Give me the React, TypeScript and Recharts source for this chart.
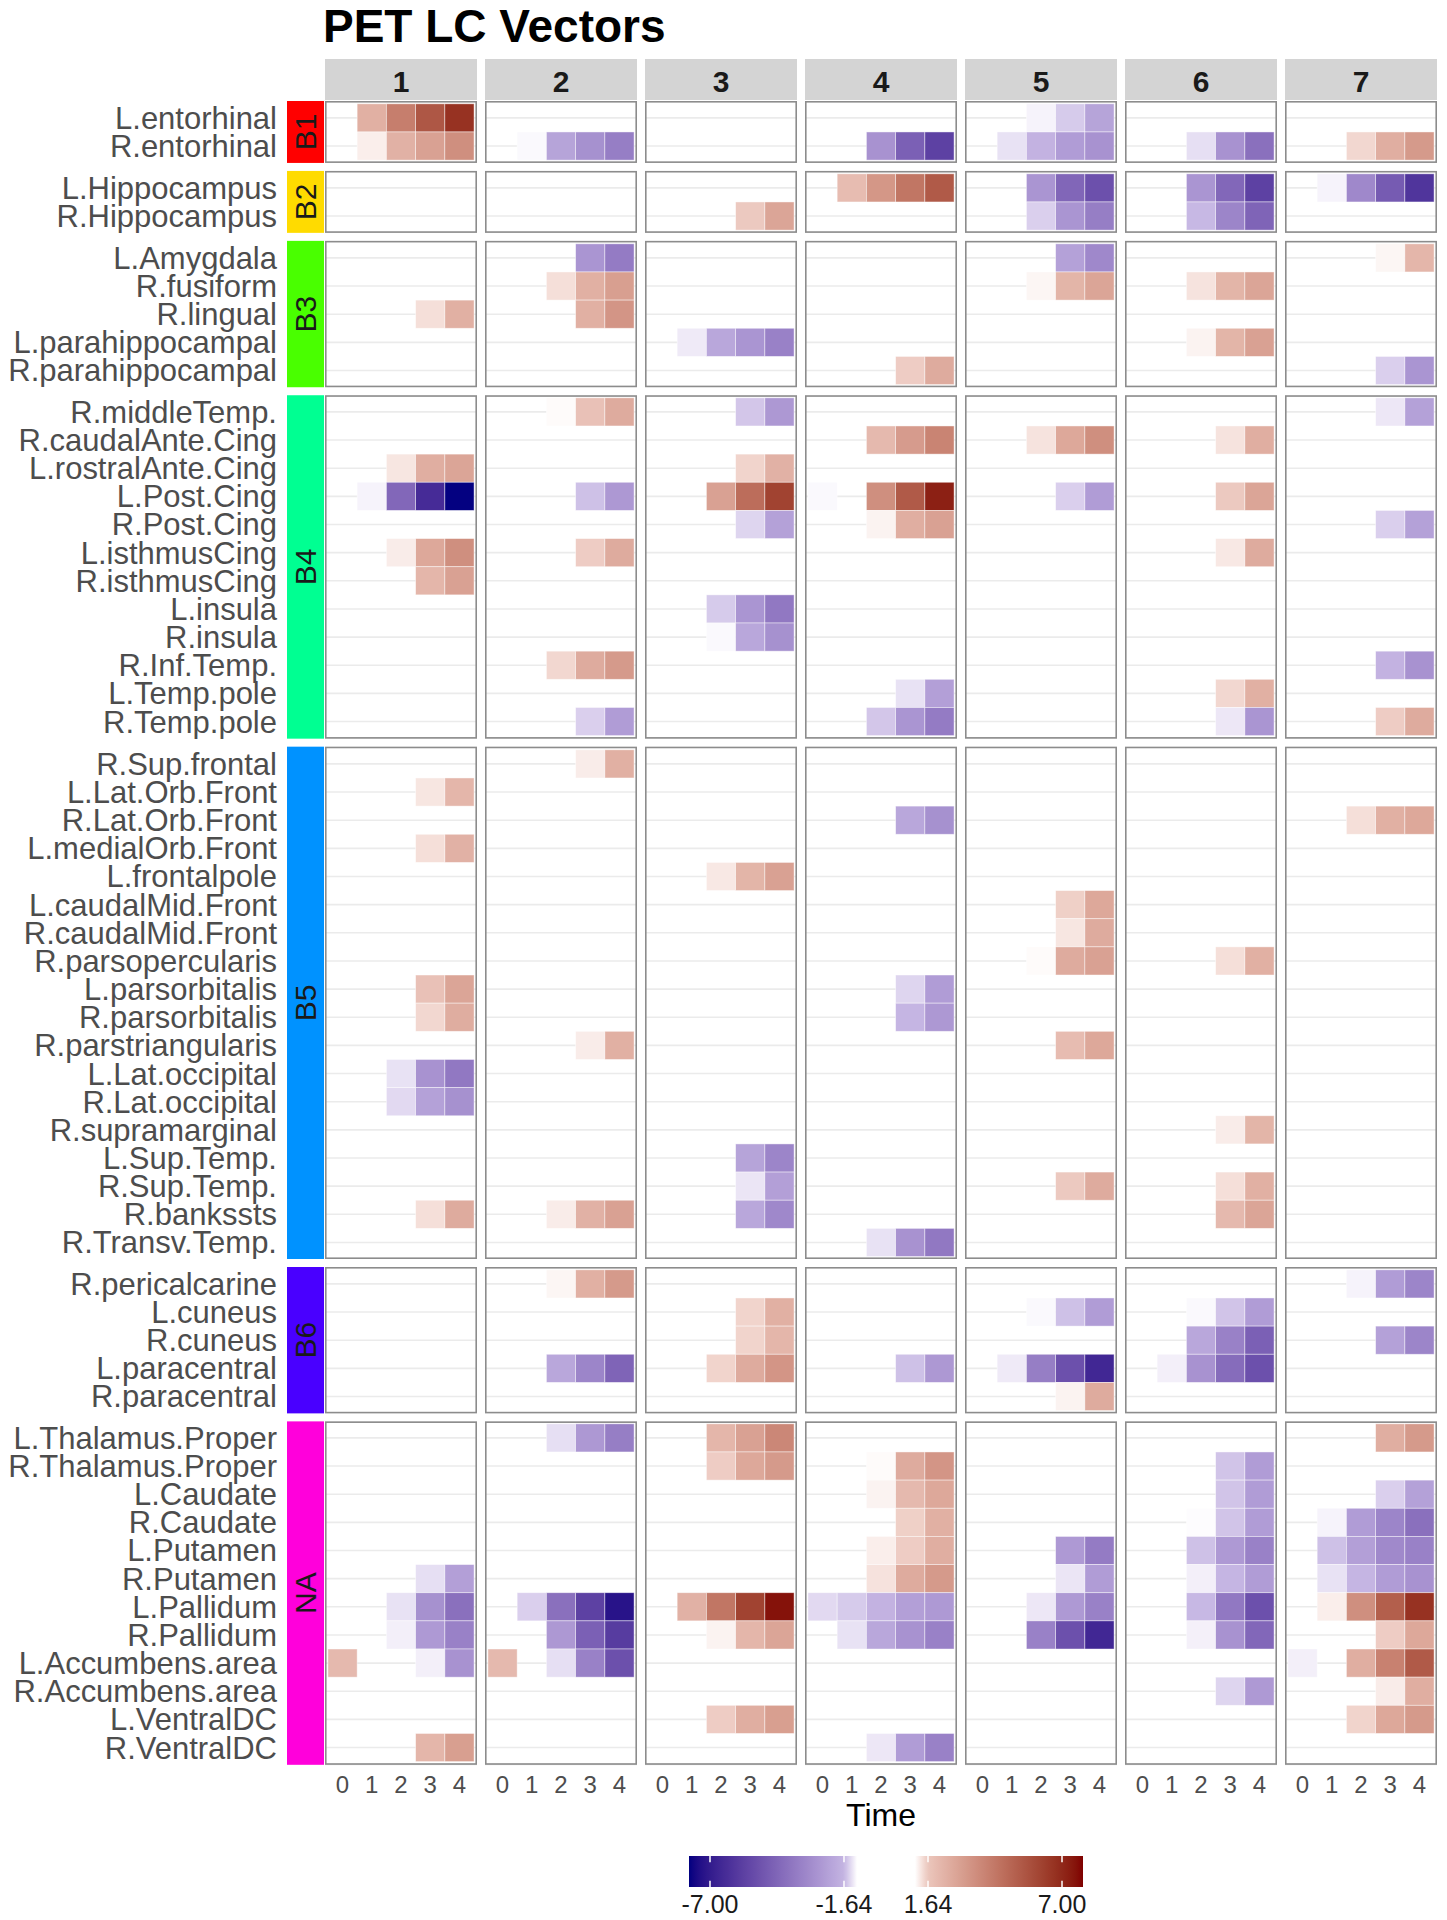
import React from 'react';
import { ScatterChart, Scatter, XAxis, YAxis, CartesianGrid } from 'recharts';

const FONT = '"Liberation Sans", Arial, Helvetica, sans-serif';

const TITLE = 'PET LC Vectors';
const X_TITLE = 'Time';
const FACETS = ['1', '2', '3', '4', '5', '6', '7'];
const TIMES = [0, 1, 2, 3, 4];

const BLOCK_LABELS = ['B1', 'B2', 'B3', 'B4', 'B5', 'B6', 'NA'];
const B1_ROWS = ['L.entorhinal', 'R.entorhinal'];
const B2_ROWS = ['L.Hippocampus', 'R.Hippocampus'];
const B3_ROWS = ['L.Amygdala', 'R.fusiform', 'R.lingual', 'L.parahippocampal', 'R.parahippocampal'];
const B4_ROWS = ['R.middleTemp.', 'R.caudalAnte.Cing', 'L.rostralAnte.Cing', 'L.Post.Cing', 'R.Post.Cing', 'L.isthmusCing', 'R.isthmusCing', 'L.insula', 'R.insula', 'R.Inf.Temp.', 'L.Temp.pole', 'R.Temp.pole'];
const B5_ROWS = ['R.Sup.frontal', 'L.Lat.Orb.Front', 'R.Lat.Orb.Front', 'L.medialOrb.Front', 'L.frontalpole', 'L.caudalMid.Front', 'R.caudalMid.Front', 'R.parsopercularis', 'L.parsorbitalis', 'R.parsorbitalis', 'R.parstriangularis', 'L.Lat.occipital', 'R.Lat.occipital', 'R.supramarginal', 'L.Sup.Temp.', 'R.Sup.Temp.', 'R.bankssts', 'R.Transv.Temp.'];
const B6_ROWS = ['R.pericalcarine', 'L.cuneus', 'R.cuneus', 'L.paracentral', 'R.paracentral'];
const NA_ROWS = ['L.Thalamus.Proper', 'R.Thalamus.Proper', 'L.Caudate', 'R.Caudate', 'L.Putamen', 'R.Putamen', 'L.Pallidum', 'R.Pallidum', 'L.Accumbens.area', 'R.Accumbens.area', 'L.VentralDC', 'R.VentralDC'];
const BLOCK_ROWS = [B1_ROWS, B2_ROWS, B3_ROWS, B4_ROWS, B5_ROWS, B6_ROWS, NA_ROWS];

type Row = [string, (number | null)[]];
const _ = null;

const FACET1: Row[] = [
  ['L.entorhinal', [_, 2.39, 4.11, 5.45, 6.69]],
  ['R.entorhinal', [_, 1.27, 2.34, 2.88, 3.52]],
  ['R.lingual', [_, _, _, 1.41, 2.39]],
  ['L.rostralAnte.Cing', [_, _, 1.35, 2.45, 2.77]],
  ['L.Post.Cing', [_, -1.2, -4.25, -6.41, -7.8]],
  ['L.isthmusCing', [_, _, 1.29, 2.66, 3.52]],
  ['R.isthmusCing', [_, _, _, 2.18, 2.88]],
  ['L.Lat.Orb.Front', [_, _, _, 1.35, 2.18]],
  ['L.medialOrb.Front', [_, _, _, 1.41, 2.34]],
  ['L.parsorbitalis', [_, _, _, 1.8, 2.77]],
  ['R.parsorbitalis', [_, _, _, 1.48, 2.5]],
  ['L.Lat.occipital', [_, _, -1.32, -2.77, -3.66]],
  ['R.Lat.occipital', [_, _, -1.38, -2.28, -2.82]],
  ['R.bankssts', [_, _, _, 1.41, 2.55]],
  ['R.Putamen', [_, _, _, -1.34, -2.33]],
  ['L.Pallidum', [_, _, -1.32, -2.82, -3.95]],
  ['R.Pallidum', [_, _, -1.23, -2.53, -3.36]],
  ['L.Accumbens.area', [2.07, _, _, -1.23, -2.77]],
  ['R.VentralDC', [_, _, _, 2.18, 2.98]],
];

const FACET2: Row[] = [
  ['R.entorhinal', [_, -1.16, -2.18, -2.82, -3.46]],
  ['L.Amygdala', [_, _, _, -2.67, -3.56]],
  ['R.fusiform', [_, _, 1.41, 2.39, 2.98]],
  ['R.lingual', [_, _, _, 2.39, 3.3]],
  ['R.middleTemp.', [_, _, 1.16, 1.8, 2.55]],
  ['L.Post.Cing', [_, _, _, -1.55, -2.57]],
  ['L.isthmusCing', [_, _, _, 1.58, 2.55]],
  ['R.Inf.Temp.', [_, _, 1.48, 2.55, 3.14]],
  ['R.Temp.pole', [_, _, _, -1.45, -2.43]],
  ['R.Sup.frontal', [_, _, _, 1.29, 2.39]],
  ['R.parstriangularis', [_, _, _, 1.29, 2.39]],
  ['R.bankssts', [_, _, 1.29, 2.34, 2.88]],
  ['R.pericalcarine', [_, _, 1.2, 2.39, 3.14]],
  ['L.paracentral', [_, _, -2.08, -3.21, -4.35]],
  ['L.Thalamus.Proper', [_, _, -1.34, -2.57, -3.46]],
  ['L.Pallidum', [_, -1.45, -3.95, -5.63, -7.25]],
  ['R.Pallidum', [_, _, -2.57, -4.5, -5.82]],
  ['L.Accumbens.area', [2.07, _, -1.34, -3.36, -5.08]],
];

const FACET3: Row[] = [
  ['R.Hippocampus', [_, _, _, 1.61, 2.77]],
  ['L.parahippocampal', [_, -1.26, -2.08, -2.67, -3.36]],
  ['R.middleTemp.', [_, _, _, -1.51, -2.57]],
  ['L.rostralAnte.Cing', [_, _, _, 1.51, 2.34]],
  ['L.Post.Cing', [_, _, 2.88, 4.7, 6.15]],
  ['R.Post.Cing', [_, _, _, -1.41, -2.28]],
  ['L.insula', [_, _, -1.48, -2.67, -3.66]],
  ['R.insula', [_, _, -1.16, -2.08, -2.82]],
  ['L.frontalpole', [_, _, 1.33, 2.23, 2.88]],
  ['L.Sup.Temp.', [_, _, _, -2.18, -3.21]],
  ['R.Sup.Temp.', [_, _, _, -1.3, -2.33]],
  ['R.bankssts', [_, _, _, -2.08, -3.12]],
  ['L.cuneus', [_, _, _, 1.51, 2.39]],
  ['R.cuneus', [_, _, _, 1.51, 2.18]],
  ['L.paracentral', [_, _, 1.51, 2.55, 3.3]],
  ['L.Thalamus.Proper', [_, _, 2.18, 2.88, 3.79]],
  ['R.Thalamus.Proper', [_, _, 1.58, 2.66, 3.14]],
  ['L.Pallidum', [_, 2.34, 4.38, 6.15, 7.55]],
  ['R.Pallidum', [_, _, 1.23, 2.18, 2.77]],
  ['L.VentralDC', [_, _, 1.58, 2.45, 2.98]],
];

const FACET4: Row[] = [
  ['R.entorhinal', [_, _, -2.77, -4.5, -5.63]],
  ['L.Hippocampus', [_, 1.96, 3.25, 4.38, 5.35]],
  ['R.parahippocampal', [_, _, _, 1.58, 2.55]],
  ['R.caudalAnte.Cing', [_, _, 2.07, 3.09, 3.9]],
  ['L.Post.Cing', [-1.16, _, 3.52, 5.35, 7.23]],
  ['R.Post.Cing', [_, _, 1.23, 2.45, 2.88]],
  ['L.Temp.pole', [_, _, _, -1.32, -2.33]],
  ['R.Temp.pole', [_, _, -1.51, -2.67, -3.56]],
  ['R.Lat.Orb.Front', [_, _, _, -2.08, -2.82]],
  ['L.parsorbitalis', [_, _, _, -1.41, -2.43]],
  ['R.parsorbitalis', [_, _, _, -1.63, -2.57]],
  ['R.Transv.Temp.', [_, _, -1.32, -2.77, -3.66]],
  ['L.paracentral', [_, _, _, -1.55, -2.57]],
  ['R.Thalamus.Proper', [_, _, 1.16, 2.55, 3.3]],
  ['L.Caudate', [_, _, 1.23, 2.07, 2.66]],
  ['R.Caudate', [_, _, _, 1.55, 2.39]],
  ['L.Putamen', [_, _, 1.27, 1.58, 2.45]],
  ['R.Putamen', [_, _, 1.38, 2.55, 3.14]],
  ['L.Pallidum', [-1.38, -1.48, -1.69, -2.33, -2.53]],
  ['R.Pallidum', [_, -1.32, -2.08, -2.77, -3.36]],
  ['R.VentralDC', [_, _, -1.28, -2.43, -3.36]],
];

const FACET5: Row[] = [
  ['L.entorhinal', [_, _, -1.2, -1.48, -2.18]],
  ['R.entorhinal', [_, -1.32, -1.69, -2.43, -2.77]],
  ['L.Hippocampus', [_, _, -2.67, -4.3, -5.08]],
  ['R.Hippocampus', [_, _, -1.45, -2.67, -3.46]],
  ['L.Amygdala', [_, _, _, -2.28, -3.12]],
  ['R.fusiform', [_, _, 1.2, 2.23, 2.77]],
  ['R.caudalAnte.Cing', [_, _, 1.37, 2.66, 3.52]],
  ['L.Post.Cing', [_, _, _, -1.45, -2.43]],
  ['L.caudalMid.Front', [_, _, _, 1.55, 2.66]],
  ['R.caudalMid.Front', [_, _, _, 1.35, 2.55]],
  ['R.parsopercularis', [_, _, 1.16, 2.55, 2.88]],
  ['R.parstriangularis', [_, _, _, 1.96, 2.66]],
  ['R.Sup.Temp.', [_, _, _, 1.61, 2.55]],
  ['L.cuneus', [_, _, -1.16, -1.55, -2.43]],
  ['L.paracentral', [_, -1.26, -3.46, -5.08, -6.56]],
  ['R.paracentral', [_, _, _, 1.23, 2.55]],
  ['L.Putamen', [_, _, _, -2.53, -3.56]],
  ['R.Putamen', [_, _, _, -1.3, -2.43]],
  ['L.Pallidum', [_, _, -1.28, -2.53, -3.36]],
  ['R.Pallidum', [_, _, -3.36, -5.08, -6.56]],
];

const FACET6: Row[] = [
  ['R.entorhinal', [_, _, -1.34, -2.77, -3.95]],
  ['L.Hippocampus', [_, _, -2.67, -4.25, -5.63]],
  ['R.Hippocampus', [_, _, -1.61, -3.21, -4.35]],
  ['R.fusiform', [_, _, 1.37, 2.23, 2.77]],
  ['L.parahippocampal', [_, _, 1.23, 2.23, 2.88]],
  ['R.caudalAnte.Cing', [_, _, _, 1.37, 2.45]],
  ['L.Post.Cing', [_, _, _, 1.61, 2.77]],
  ['L.isthmusCing', [_, _, _, 1.33, 2.55]],
  ['L.Temp.pole', [_, _, _, 1.48, 2.39]],
  ['R.Temp.pole', [_, _, _, -1.28, -2.67]],
  ['R.parsopercularis', [_, _, _, 1.41, 2.39]],
  ['R.supramarginal', [_, _, _, 1.29, 2.23]],
  ['R.Sup.Temp.', [_, _, _, 1.41, 2.39]],
  ['R.bankssts', [_, _, _, 2.07, 2.77]],
  ['L.cuneus', [_, _, -1.16, -1.53, -2.43]],
  ['R.cuneus', [_, _, -2.08, -3.36, -4.5]],
  ['L.paracentral', [_, -1.23, -2.77, -4.1, -5.08]],
  ['R.Thalamus.Proper', [_, _, _, -1.53, -2.43]],
  ['L.Caudate', [_, _, _, -1.53, -2.43]],
  ['R.Caudate', [_, _, -1.14, -1.53, -2.43]],
  ['L.Putamen', [_, _, -1.55, -2.53, -3.36]],
  ['R.Putamen', [_, _, -1.23, -1.63, -2.43]],
  ['L.Pallidum', [_, _, -1.61, -3.66, -5.08]],
  ['R.Pallidum', [_, _, -1.22, -2.77, -4.25]],
  ['R.Accumbens.area', [_, _, _, -1.41, -2.53]],
];

const FACET7: Row[] = [
  ['R.entorhinal', [_, _, 1.48, 2.45, 3.14]],
  ['L.Hippocampus', [_, -1.2, -3.12, -4.69, -6.07]],
  ['L.Amygdala', [_, _, _, 1.2, 2.18]],
  ['R.parahippocampal', [_, _, _, -1.45, -2.67]],
  ['R.middleTemp.', [_, _, _, -1.28, -2.28]],
  ['R.Post.Cing', [_, _, _, -1.45, -2.28]],
  ['R.Inf.Temp.', [_, _, _, -1.69, -2.77]],
  ['R.Temp.pole', [_, _, _, 1.58, 2.55]],
  ['R.Lat.Orb.Front', [_, _, 1.41, 2.39, 2.66]],
  ['R.pericalcarine', [_, _, -1.2, -2.43, -3.21]],
  ['R.cuneus', [_, _, _, -2.28, -3.21]],
  ['L.Thalamus.Proper', [_, _, _, 2.45, 3.14]],
  ['L.Caudate', [_, _, _, -1.45, -2.28]],
  ['R.Caudate', [_, -1.2, -2.43, -3.21, -3.95]],
  ['L.Putamen', [_, -1.55, -2.33, -3.07, -3.36]],
  ['R.Putamen', [_, -1.32, -1.63, -2.43, -2.77]],
  ['L.Pallidum', [_, 1.27, 3.52, 5.19, 6.69]],
  ['R.Pallidum', [_, _, _, 1.58, 2.66]],
  ['L.Accumbens.area', [-1.23, _, 2.45, 4.0, 5.35]],
  ['R.Accumbens.area', [_, _, _, 1.29, 2.45]],
  ['L.VentralDC', [_, _, 1.51, 2.66, 3.14]],
];

const FACET_DATA = [FACET1, FACET2, FACET3, FACET4, FACET5, FACET6, FACET7];

const NEG_BREAKS = [-7, -1.64];
const POS_BREAKS = [1.64, 7];
const NEG_RANGE = [-7.84, -1.12];
const POS_RANGE = [1.12, 7.84];

// colour scale stops (value -> colour), interpolated in CIELAB
const NEG_STOPS: [number, string][] = [[-7.84, '#000080'], [-1.64, '#C4B4E2'], [-1.12, '#FFFFFF']];
const POS_STOPS: [number, string][] = [[1.12, '#FFFFFF'], [1.64, '#EBC6BC'], [7.84, '#7F0000']];

const STRIP_COLORS = ['#FF0000', '#FFDB00', '#49FF00', '#00FF92', '#0092FF', '#4900FF', '#FF00DB'];

// ---------- layout ----------
const PANEL_X0 = 325;
const PITCH = 160;
const PW = 152;
const TOP0 = 101;
const ROWP = 28.15;
const GAP = 8;
const XAXIS_H = 45;

// ---------- colour helpers ----------
function hexToRgb(hex: string): number[] {
  const n = parseInt(hex.slice(1), 16);
  return [(n >> 16) & 255, (n >> 8) & 255, n & 255];
}
function toLin(c: number) {
  c /= 255;
  return c <= 0.04045 ? c / 12.92 : Math.pow((c + 0.055) / 1.055, 2.4);
}
function fromLin(c: number) {
  const v = c <= 0.0031308 ? 12.92 * c : 1.055 * Math.pow(Math.max(c, 0), 1 / 2.4) - 0.055;
  return Math.round(Math.max(0, Math.min(1, v)) * 255);
}
const XN = 0.95047, YN = 1.0, ZN = 1.08883;
function fLab(t: number) {
  return t > 216 / 24389 ? Math.cbrt(t) : ((24389 / 27) * t + 16) / 116;
}
function fInv(t: number) {
  const t3 = t * t * t;
  return t3 > 216 / 24389 ? t3 : (116 * t - 16) / (24389 / 27);
}
function rgbToLab(rgb: number[]): number[] {
  const [r, g, b] = rgb.map(toLin);
  const x = r * 0.4124 + g * 0.3576 + b * 0.1805;
  const y = r * 0.2126 + g * 0.7152 + b * 0.0722;
  const z = r * 0.0193 + g * 0.1192 + b * 0.9505;
  const fx = fLab(x / XN), fy = fLab(y / YN), fz = fLab(z / ZN);
  return [116 * fy - 16, 500 * (fx - fy), 200 * (fy - fz)];
}
function labToHex(lab: number[]): string {
  const [L, a, b] = lab;
  const fy = (L + 16) / 116, fx = fy + a / 500, fz = fy - b / 200;
  const x = fInv(fx) * XN, y = fInv(fy) * YN, z = fInv(fz) * ZN;
  const r = 3.2406 * x - 1.5372 * y - 0.4986 * z;
  const g = -0.9689 * x + 1.8758 * y + 0.0415 * z;
  const bb = 0.0557 * x - 0.204 * y + 1.057 * z;
  return '#' + [r, g, bb].map(fromLin).map((v) => v.toString(16).padStart(2, '0')).join('');
}
function ramp(stops: [number, string][], v: number): string {
  const lo = stops[0][0], hi = stops[stops.length - 1][0];
  const vv = Math.max(lo, Math.min(hi, v));
  for (let i = 0; i < stops.length - 1; i++) {
    const [v0, c0] = stops[i];
    const [v1, c1] = stops[i + 1];
    if (vv >= v0 && vv <= v1) {
      const t = (vv - v0) / (v1 - v0);
      const a = rgbToLab(hexToRgb(c0)), b = rgbToLab(hexToRgb(c1));
      return labToHex([a[0] + (b[0] - a[0]) * t, a[1] + (b[1] - a[1]) * t, a[2] + (b[2] - a[2]) * t]);
    }
  }
  return stops[stops.length - 1][1];
}
function fillFor(v: number): string {
  return v < 0 ? ramp(NEG_STOPS, v) : ramp(POS_STOPS, v);
}

// ---------- data building ----------
function panelCells(f: number, b: number) {
  const rows = BLOCK_ROWS[b];
  const out: { t: number; r: number; v: number }[] = [];
  rows.forEach((name, r) => {
    const entry = FACET_DATA[f].find((e) => e[0] === name);
    if (!entry) return;
    entry[1].forEach((v, ti) => {
      if (v !== null) out.push({ t: TIMES[ti], r, v });
    });
  });
  return out;
}

const blockHeights = BLOCK_ROWS.map((rows) => (rows.length + 0.2) * ROWP);
const blockTops: number[] = [];
{
  let y = TOP0;
  blockHeights.forEach((h) => {
    blockTops.push(y);
    y += h + GAP;
  });
}
const panelLeft = (f: number) => PANEL_X0 + f * PITCH;

function Panel({ f, b }: { f: number; b: number }) {
  const rows = BLOCK_ROWS[b];
  const n = rows.length;
  const ph = blockHeights[b];
  const first = f === 0;
  const last = b === BLOCK_ROWS.length - 1;
  const yw = first ? PANEL_X0 : 0;
  const xh = last ? XAXIS_H : 0;
  const data = panelCells(f, b);
  const cw = PW / 5.2;
  const ch = ROWP;
  const shape = (p: any) => (
    <rect
      x={p.cx - cw / 2}
      y={p.cy - ch / 2}
      width={cw}
      height={ch}
      fill={fillFor(p.payload.v)}
      stroke="#FFFFFF"
      strokeOpacity={0.55}
      strokeWidth={0.8}
    />
  );
  const w = yw + PW;
  const h = ph + xh;
  return (
    <div style={{ position: 'absolute', left: first ? 0 : panelLeft(f), top: blockTops[b], width: w, height: h }}>
      <ScatterChart width={w} height={h} margin={{ top: 0, right: 0, bottom: 0, left: 0 }}>
        <CartesianGrid vertical={false} horizontal={true} stroke="#EBEBEB" strokeWidth={1.6} />
        <XAxis
          type="number"
          dataKey="t"
          domain={[-0.6, 4.6]}
          allowDataOverflow
          ticks={TIMES}
          hide={!last}
          height={last ? XAXIS_H : 0}
          axisLine={false}
          tickLine={false}
          tickSize={0}
          tickMargin={12}
          interval={0}
          tick={{ fontSize: 24, fill: '#4D4D4D', fontFamily: FONT }}
        />
        <YAxis
          type="number"
          dataKey="r"
          domain={[-0.6, n - 0.4]}
          allowDataOverflow
          reversed
          ticks={rows.map((_r, i) => i)}
          tickFormatter={(i: number) => rows[i] ?? ''}
          hide={!first}
          width={first ? yw : 0}
          axisLine={false}
          tickLine={false}
          tickSize={0}
          tickMargin={48}
          interval={0}
          tick={{ fontSize: 31, fill: '#4D4D4D', fontFamily: FONT }}
        />
        <Scatter data={data} shape={shape} isAnimationActive={false} />
      </ScatterChart>
    </div>
  );
}

function LegendBar({ x, range, breaks, stops, id }: { x: number; range: number[]; breaks: number[]; stops: [number, string][]; id: string }) {
  const W = 168, H = 31, y = 1856;
  const xOf = (v: number) => x + ((v - range[0]) / (range[1] - range[0])) * W;
  const N = 48;
  const gs = [];
  for (let k = 0; k <= N; k++) {
    const v = range[0] + (k / N) * (range[1] - range[0]);
    gs.push(<stop key={k} offset={`${(k / N) * 100}%`} stopColor={ramp(stops, v)} />);
  }
  return (
    <g>
      <defs>
        <linearGradient id={id} x1="0" x2="1" y1="0" y2="0">
          {gs}
        </linearGradient>
      </defs>
      <rect x={x} y={y} width={W} height={H} fill={`url(#${id})`} />
      {breaks.map((bv) => (
        <g key={bv}>
          <line x1={xOf(bv)} x2={xOf(bv)} y1={y} y2={y + H / 5} stroke="#FFFFFF" strokeWidth={1.5} />
          <line x1={xOf(bv)} x2={xOf(bv)} y1={y + (H * 4) / 5} y2={y + H} stroke="#FFFFFF" strokeWidth={1.5} />
          <text x={xOf(bv)} y={1913} fontSize={25} textAnchor="middle" fill="#1A1A1A" fontFamily={FONT}>
            {bv.toFixed(2)}
          </text>
        </g>
      ))}
    </g>
  );
}

export default function App() {
  const panels = [];
  for (let b = 0; b < BLOCK_ROWS.length; b++) {
    for (let f = 0; f < FACETS.length; f++) {
      panels.push(<Panel key={`${f}-${b}`} f={f} b={b} />);
    }
  }
  const gridRight = panelLeft(FACETS.length - 1) + PW;
  const gridCenter = (PANEL_X0 + gridRight) / 2;
  return (
    <div style={{ position: 'absolute', left: 0, top: 0, width: 1447, height: 1920, background: '#FFFFFF', fontFamily: FONT }}>
      {panels}
      <svg width={1447} height={1920} style={{ position: 'absolute', left: 0, top: 0, pointerEvents: 'none' }}>
        <text x={323} y={42} fontSize={46} fontWeight="bold" fill="#000000" fontFamily={FONT}>
          {TITLE}
        </text>
        {FACETS.map((lab, f) => (
          <g key={lab}>
            <rect x={panelLeft(f)} y={59} width={PW} height={41} fill="#D4D4D4" />
            <text x={panelLeft(f) + PW / 2} y={92} fontSize={30} fontWeight="bold" textAnchor="middle" fill="#1A1A1A" fontFamily={FONT}>
              {lab}
            </text>
          </g>
        ))}
        {BLOCK_LABELS.map((lab, b) => {
          const cy = blockTops[b] + blockHeights[b] / 2;
          return (
            <g key={lab}>
              <rect x={287} y={blockTops[b]} width={37} height={blockHeights[b]} fill={STRIP_COLORS[b]} />
              <text
                x={305.5}
                y={cy}
                fontSize={30}
                textAnchor="middle"
                dominantBaseline="central"
                fill="#1A1A1A"
                fontFamily={FONT}
                transform={`rotate(-90 305.5 ${cy})`}
              >
                {lab}
              </text>
            </g>
          );
        })}
        {BLOCK_ROWS.map((_rows, b) =>
          FACETS.map((_f, f) => (
            <rect
              key={`bd-${b}-${f}`}
              x={panelLeft(f) + 0.8}
              y={blockTops[b] + 0.8}
              width={PW - 1.6}
              height={blockHeights[b] - 1.6}
              fill="none"
              stroke="#8C8C8C"
              strokeWidth={1.6}
            />
          ))
        )}
        <text x={gridCenter} y={1826} fontSize={32} textAnchor="middle" fill="#000000" fontFamily={FONT}>
          {X_TITLE}
        </text>
        <LegendBar x={689} range={NEG_RANGE} breaks={NEG_BREAKS} stops={NEG_STOPS} id="negGrad" />
        <LegendBar x={915} range={POS_RANGE} breaks={POS_BREAKS} stops={POS_STOPS} id="posGrad" />
      </svg>
    </div>
  );
}
